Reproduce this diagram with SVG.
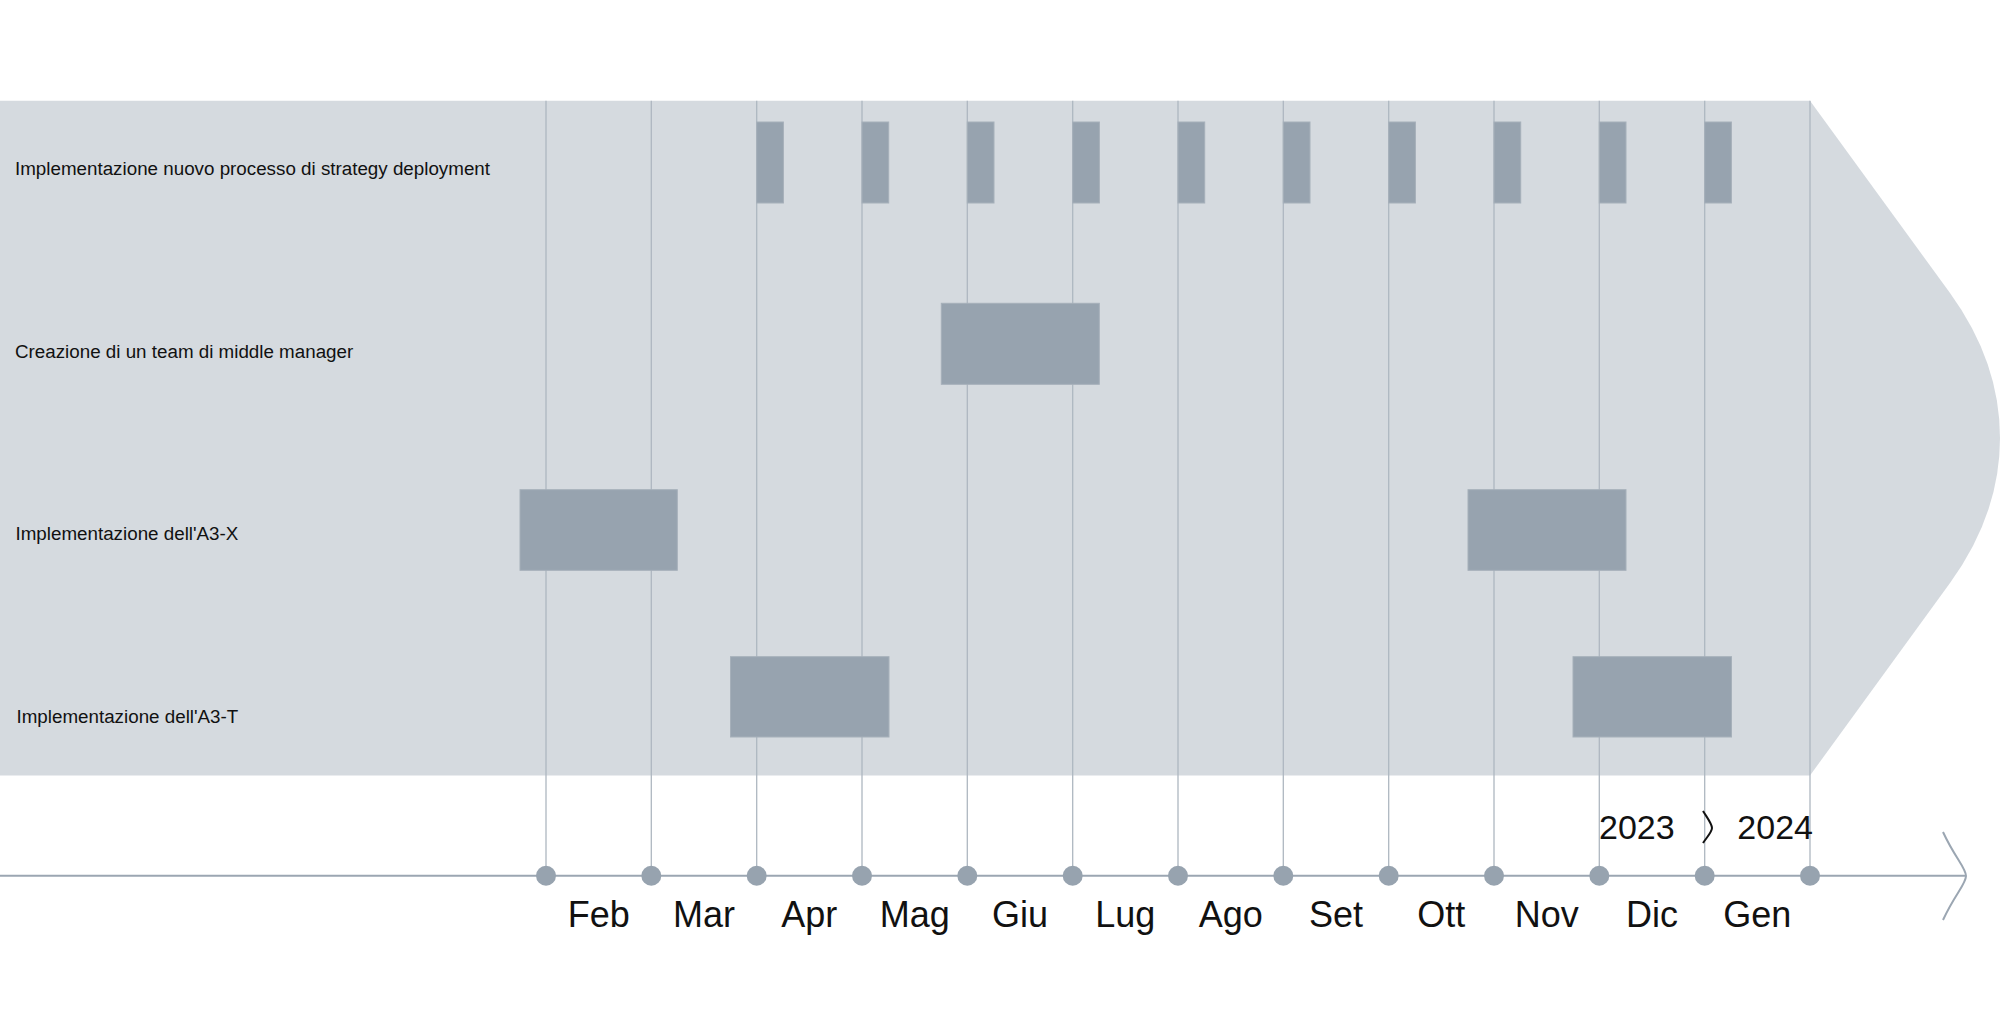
<svg xmlns="http://www.w3.org/2000/svg" width="2000" height="1032" viewBox="0 0 2000 1032">
<style>
.band{fill:#d5dadf}
.grid{stroke:#aeb7c0;stroke-width:1.3;fill:none}
.bar{fill:#97a3af;stroke:#a6b0ba;stroke-width:1}
.dot{fill:#97a3af}
.axis{stroke:#9ba6b2;stroke-width:2;fill:none}
.lbl{font-family:"Liberation Sans",Arial,sans-serif;font-size:18.8px;fill:#111}
.mon{font-family:"Liberation Sans",Arial,sans-serif;font-size:36px;fill:#111;text-anchor:middle}
.yr{font-family:"Liberation Sans",Arial,sans-serif;font-size:34px;fill:#111}
</style>
<rect width="2000" height="1032" fill="#ffffff"/>
<path id="band" class="band" d="M0,100.8 H1810 L1950,293 Q2000,362 2000,438 Q2000,514 1950,583 L1810,775.5 H0 Z"/>
<g id="connectors">
<line class="grid" x1="546" y1="100.8" x2="546" y2="875.7"/>
<line class="grid" x1="651.3" y1="100.8" x2="651.3" y2="875.7"/>
<line class="grid" x1="756.7" y1="100.8" x2="756.7" y2="875.7"/>
<line class="grid" x1="862" y1="100.8" x2="862" y2="875.7"/>
<line class="grid" x1="967.3" y1="100.8" x2="967.3" y2="875.7"/>
<line class="grid" x1="1072.7" y1="100.8" x2="1072.7" y2="875.7"/>
<line class="grid" x1="1178" y1="100.8" x2="1178" y2="875.7"/>
<line class="grid" x1="1283.3" y1="100.8" x2="1283.3" y2="875.7"/>
<line class="grid" x1="1388.7" y1="100.8" x2="1388.7" y2="875.7"/>
<line class="grid" x1="1494" y1="100.8" x2="1494" y2="875.7"/>
<line class="grid" x1="1599.3" y1="100.8" x2="1599.3" y2="875.7"/>
<line class="grid" x1="1704.7" y1="100.8" x2="1704.7" y2="875.7"/>
<line class="grid" x1="1810" y1="100.8" x2="1810" y2="875.7"/>
</g>
<g id="task1">
<text class="lbl" x="15" y="175">Implementazione nuovo processo di strategy deployment</text>
<rect class="bar" x="756.7" y="122" width="26.7" height="81"/>
<rect class="bar" x="862" y="122" width="26.7" height="81"/>
<rect class="bar" x="967.3" y="122" width="26.7" height="81"/>
<rect class="bar" x="1072.7" y="122" width="26.7" height="81"/>
<rect class="bar" x="1178" y="122" width="26.7" height="81"/>
<rect class="bar" x="1283.3" y="122" width="26.7" height="81"/>
<rect class="bar" x="1388.7" y="122" width="26.7" height="81"/>
<rect class="bar" x="1494" y="122" width="26.7" height="81"/>
<rect class="bar" x="1599.3" y="122" width="26.7" height="81"/>
<rect class="bar" x="1704.7" y="122" width="26.7" height="81"/>
</g>
<g id="task2">
<text class="lbl" x="15" y="357.6">Creazione di un team di middle manager</text>
<rect class="bar" x="941.3" y="303.3" width="158" height="81"/>
</g>
<g id="task3">
<text class="lbl" x="15.5" y="540.2">Implementazione dell'A3-X</text>
<rect class="bar" x="520" y="489.7" width="157.3" height="80.6"/>
<rect class="bar" x="1468" y="489.7" width="158" height="80.6"/>
</g>
<g id="task4">
<text class="lbl" x="16.5" y="722.8">Implementazione dell'A3-T</text>
<rect class="bar" x="730.5" y="656.7" width="158.5" height="80.3"/>
<rect class="bar" x="1573" y="656.7" width="158.5" height="80.3"/>
</g>
<g id="axis">
<line class="axis" x1="0" y1="875.7" x2="1965" y2="875.7"/>
<path class="axis" d="M1943,832 C1955,858 1966,868 1966,876 C1966,884 1955,894 1943,920"/>
<circle class="dot" cx="546" cy="875.7" r="10"/>
<circle class="dot" cx="651.3" cy="875.7" r="10"/>
<circle class="dot" cx="756.7" cy="875.7" r="10"/>
<circle class="dot" cx="862" cy="875.7" r="10"/>
<circle class="dot" cx="967.3" cy="875.7" r="10"/>
<circle class="dot" cx="1072.7" cy="875.7" r="10"/>
<circle class="dot" cx="1178" cy="875.7" r="10"/>
<circle class="dot" cx="1283.3" cy="875.7" r="10"/>
<circle class="dot" cx="1388.7" cy="875.7" r="10"/>
<circle class="dot" cx="1494" cy="875.7" r="10"/>
<circle class="dot" cx="1599.3" cy="875.7" r="10"/>
<circle class="dot" cx="1704.7" cy="875.7" r="10"/>
<circle class="dot" cx="1810" cy="875.7" r="10"/>
</g>
<g id="months">
<text class="mon" x="598.7" y="927.3">Feb</text>
<text class="mon" x="704" y="927.3">Mar</text>
<text class="mon" x="809.3" y="927.3">Apr</text>
<text class="mon" x="914.7" y="927.3">Mag</text>
<text class="mon" x="1020" y="927.3">Giu</text>
<text class="mon" x="1125.3" y="927.3">Lug</text>
<text class="mon" x="1230.7" y="927.3">Ago</text>
<text class="mon" x="1336" y="927.3">Set</text>
<text class="mon" x="1441.3" y="927.3">Ott</text>
<text class="mon" x="1546.7" y="927.3">Nov</text>
<text class="mon" x="1652" y="927.3">Dic</text>
<text class="mon" x="1757.3" y="927.3">Gen</text>
</g>
<g id="years">
<text class="yr" x="1599" y="839.3">2023</text>
<path d="M1703,811 C1708,819 1712,824 1712,828 C1712,832 1707,837 1703,843" fill="none" stroke="#111" stroke-width="2"/>
<text class="yr" x="1813" y="839.3" text-anchor="end">2024</text>
</g>
</svg>
